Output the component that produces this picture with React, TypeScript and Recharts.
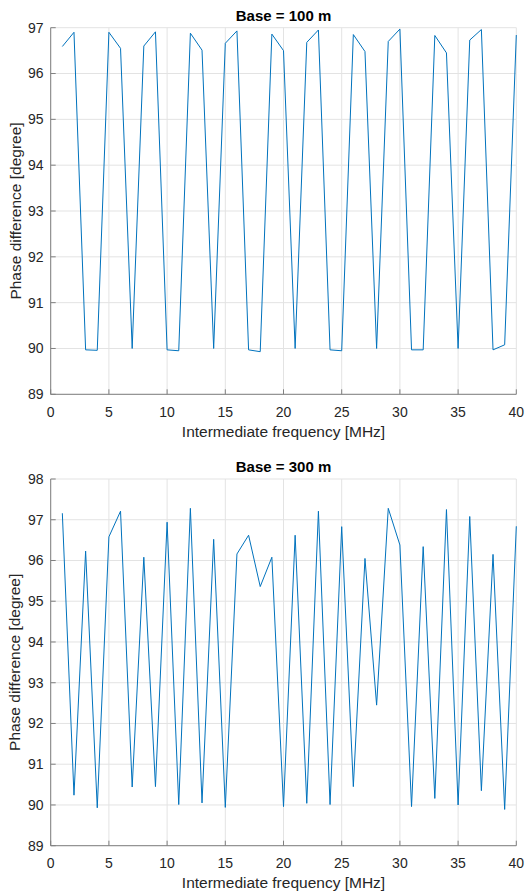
import React from 'react';
import { LineChart, Line, XAxis, YAxis, CartesianGrid, Customized } from 'recharts';

const frequencies = [
  1, 2, 3, 4, 5, 6, 7, 8, 9, 10, 11, 12, 13, 14, 15, 16, 17, 18, 19, 20,
  21, 22, 23, 24, 25, 26, 27, 28, 29, 30, 31, 32, 33, 34, 35, 36, 37, 38, 39, 40,
];

const phase100 = [
  96.59, 96.9, 89.97, 89.96, 96.9, 96.55, 90.0, 96.6, 96.91, 89.97,
  89.95, 96.88, 96.51, 90.0, 96.66, 96.93, 89.97, 89.93, 96.86, 96.5,
  90.0, 96.68, 96.95, 89.97, 89.95, 96.85, 96.48, 90.0, 96.7, 96.97,
  89.97, 89.97, 96.83, 96.45, 90.0, 96.73, 96.96, 89.97, 90.08, 96.84,
];

const phase300 = [
  97.16, 90.24, 96.23, 89.93, 96.58, 97.21, 90.44, 96.08, 90.45, 96.94,
  90.01, 97.28, 90.05, 96.52, 89.94, 96.16, 96.62, 95.36, 96.08, 89.96,
  96.62, 90.04, 97.21, 90.01, 96.83, 90.45, 96.05, 92.45, 97.28, 96.38,
  89.96, 96.34, 90.16, 97.25, 90.0, 97.08, 90.35, 96.15, 89.89, 96.84,
];

const xTicks = [0, 5, 10, 15, 20, 25, 30, 35, 40];
const yTicks100 = [89, 90, 91, 92, 93, 94, 95, 96, 97];
const yTicks300 = [89, 90, 91, 92, 93, 94, 95, 96, 97, 98];

const titles = ['Base = 100 m', 'Base = 300 m'];
const xLabel = 'Intermediate frequency [MHz]';
const yLabel = 'Phase difference [degree]';

const FONT = '"Liberation Sans", Arial, Helvetica, sans-serif';
const TEXT = '#262626';
const AXIS = '#808080';
const GRID = '#e3e3e3';
const LINE = '#0072BD';

type PanelProps = {
  values: number[];
  title: string;
  yTicks: number[];
  height: number;
  top: number;
  plotTop: number;
  plotBottom: number;
};

const WIDTH = 527;
const PLOT_LEFT = 50.7;
const PLOT_RIGHT = 516.3;

function Panel({ values, title, yTicks, height, top, plotTop, plotBottom }: PanelProps) {
  const data = frequencies.map((f, i) => ({ f, v: values[i] }));
  const domain: [number, number] = [yTicks[0], yTicks[yTicks.length - 1]];
  const bottomAxisH = height - plotBottom;
  const cx = (PLOT_LEFT + PLOT_RIGHT) / 2;
  const cy = (plotTop + plotBottom) / 2;
  const tickStyle = { fill: TEXT, fontSize: 14, fontFamily: FONT };
  const empty = () => '';
  return (
    <div style={{ position: 'absolute', left: 0, top, width: WIDTH, height }}>
      <LineChart
        width={WIDTH}
        height={height}
        data={data}
        margin={{ top: plotTop, right: WIDTH - PLOT_RIGHT, bottom: 0, left: 0 }}
      >
        <CartesianGrid stroke={GRID} strokeWidth={1} vertical horizontal />
        <XAxis
          dataKey="f"
          type="number"
          domain={[0, 40]}
          ticks={xTicks}
          interval={0}
          height={bottomAxisH}
          stroke={AXIS}
          tickSize={-5}
          tickMargin={17.5}
          tick={tickStyle}
          tickLine={{ stroke: AXIS }}
          axisLine={{ stroke: AXIS }}
        />
        <XAxis
          xAxisId="t"
          orientation="top"
          dataKey="f"
          type="number"
          domain={[0, 40]}
          ticks={xTicks}
          interval={0}
          height={0}
          stroke={AXIS}
          tickSize={-5}
          tickFormatter={empty}
          axisLine={{ stroke: AXIS }}
        />
        <YAxis
          type="number"
          domain={domain}
          ticks={yTicks}
          interval={0}
          width={PLOT_LEFT}
          stroke={AXIS}
          tickSize={-5}
          tickMargin={12.2}
          tick={tickStyle}
          axisLine={{ stroke: AXIS }}
        />
        <YAxis
          yAxisId="r"
          orientation="right"
          type="number"
          domain={domain}
          ticks={yTicks}
          interval={0}
          width={0}
          stroke={AXIS}
          tickSize={-5}
          tickFormatter={empty}
          axisLine={{ stroke: AXIS }}
        />
        <Line
          type="linear"
          dataKey="v"
          stroke={LINE}
          strokeWidth={1}
          dot={false}
          activeDot={false}
          isAnimationActive={false}
        />
        <Customized
          component={() => (
            <g fontFamily={FONT}>
              <text
                x={cx}
                y={plotTop - 12.5}
                textAnchor="middle"
                dominantBaseline="central"
                fontSize={15}
                fontWeight="bold"
                fill="#000"
              >
                {title}
              </text>
              <text
                x={cx}
                y={plotBottom + 36.7}
                textAnchor="middle"
                dominantBaseline="central"
                fontSize={15.5}
                fill={TEXT}
              >
                {xLabel}
              </text>
              <text
                x={15}
                y={cy}
                textAnchor="middle"
                dominantBaseline="central"
                fontSize={15.5}
                fill={TEXT}
                transform={`rotate(-90 15 ${cy})`}
              >
                {yLabel}
              </text>
            </g>
          )}
        />
      </LineChart>
    </div>
  );
}

export default function App() {
  return (
    <div style={{ position: 'absolute', left: 0, top: 0, width: WIDTH, height: 892, background: '#fff' }}>
      <Panel values={phase100} title={titles[0]} yTicks={yTicks100} height={440} top={0} plotTop={27.7} plotBottom={394.3} />
      <Panel values={phase300} title={titles[1]} yTicks={yTicks300} height={452} top={440} plotTop={39} plotBottom={405.7} />
    </div>
  );
}
